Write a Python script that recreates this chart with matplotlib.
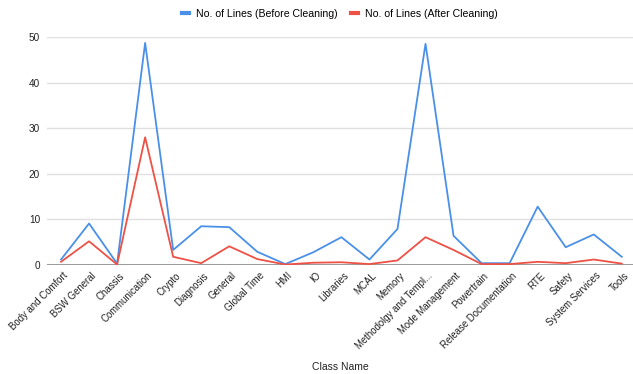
import numpy as np
import matplotlib.pyplot as plt
from matplotlib.transforms import ScaledTranslation

plt.rcParams['font.family'] = ['Liberation Sans', 'DejaVu Sans']

classes = ["Body and Comfort", "BSW General", "Chassis", "Communication", "Crypto",
           "Diagnosis", "General", "Global Time", "HMI", "IO", "Libraries", "MCAL",
           "Memory", "Methodolgy and Templ...", "Mode Management", "Powertrain",
           "Release Documentation", "RTE", "Safety", "System Services", "Tools"]
before = [1.2, 9.1, 0.3, 48.7, 3.3, 8.5, 8.3, 2.9, 0.2, 2.8, 6.1, 1.2,
          7.9, 48.5, 6.4, 0.4, 0.4, 12.8, 3.9, 6.7, 1.8]
after = [0.7, 5.2, 0.1, 28.0, 1.8, 0.4, 4.1, 1.3, 0.1, 0.5, 0.6, 0.2,
         1.0, 6.1, 3.3, 0.2, 0.2, 0.7, 0.4, 1.2, 0.3]

W, H = 633, 374
fig = plt.figure(figsize=(W/100, H/100), dpi=100)
ax = fig.add_axes([47/W, 1 - 265/H, 1 - 47/W, (265 - 37)/H])

x = np.arange(len(classes))
ax.plot(x, before, color="#4a90e8", lw=1.3, label="No. of Lines (Before Cleaning)")
ax.plot(x, after, color="#ee5145", lw=1.3, label="No. of Lines (After Cleaning)")

ax.set_xlim(-0.5, len(classes) - 0.6)
ax.set_ylim(0, 50)
ax.set_yticks([0, 10, 20, 30, 40, 50])
ax.yaxis.grid(True, color="#e0e0e0", lw=1)
ax.set_axisbelow(True)
ax.axhline(0, color="#8a8a8a", lw=1.2, zorder=1)
for s in ax.spines.values():
    s.set_visible(False)
ax.tick_params(length=0, labelsize=7.2, colors="#222222")
ax.tick_params(axis="x", labelsize=6.9, pad=4)
ax.tick_params(axis="y", pad=5)

ax.set_xticks(x)
ax.set_xticklabels(classes, rotation=45, ha="right", rotation_mode="anchor")
# nudge the rotated labels a little to the right of their ticks
shift = ScaledTranslation(2/100, 0, fig.dpi_scale_trans)
for lbl in ax.get_xticklabels():
    lbl.set_transform(lbl.get_transform() + shift)

ax.set_xlabel("Class Name", fontsize=7.5, color="#222222")
ax.xaxis.set_label_coords(0.5, (265 - 362) / 228)

leg = ax.legend(loc="center", bbox_to_anchor=(0.5, 1 + (37 - 14) / 228), ncol=2,
                frameon=False, fontsize=7.6, handlelength=0.6, handletextpad=0.7,
                columnspacing=1.3)
for h in leg.get_lines():
    h.set_linewidth(3)

fig.savefig("out.png", dpi=100)
